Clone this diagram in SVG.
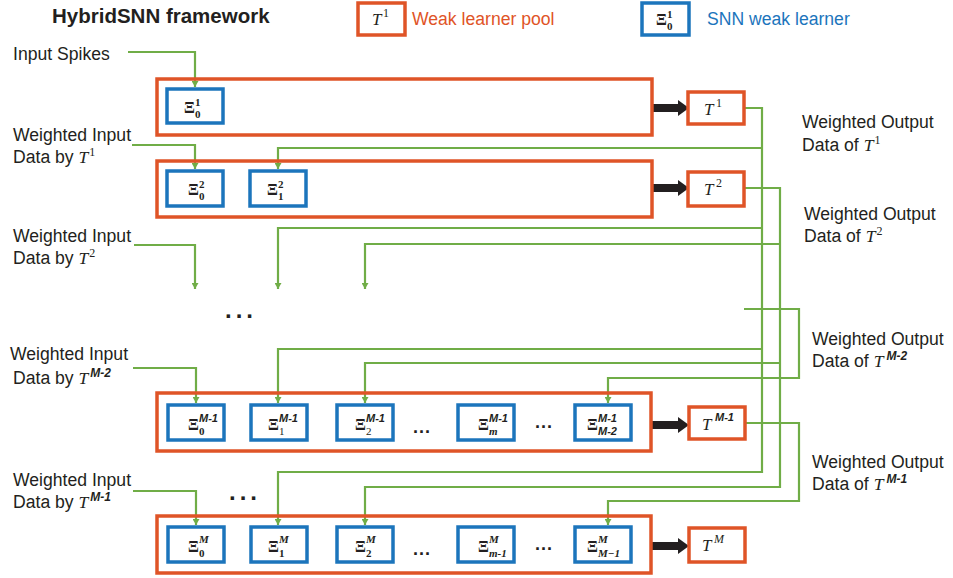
<svg xmlns="http://www.w3.org/2000/svg" width="953" height="578" viewBox="0 0 953 578">
<style>
.blk{fill:none;stroke:#DF5427;stroke-width:3.5}
.tb{fill:#fff;stroke:#DF5427;stroke-width:3.5}
.sb{fill:#fff;stroke:#1C75BC;stroke-width:3.5}
.lbl{font-family:"Liberation Sans",Arial,sans-serif;font-size:17.6px;fill:#231F20}
.ttl{font-family:"Liberation Sans",Arial,sans-serif;font-size:20.5px;font-weight:bold;fill:#231F20}
.mi{font-family:"Liberation Serif","Times New Roman",serif;font-style:italic;font-weight:normal}
.sr{font-family:"Liberation Serif","Times New Roman",serif;font-style:normal;font-weight:normal}
.xi{font-family:"Liberation Serif","Times New Roman",serif;font-weight:bold;font-size:16px;fill:#231F20}
.sc{font-size:11px}
.ss{font-family:"Liberation Sans",Arial,sans-serif;font-style:italic;font-weight:bold}
.bi{font-style:italic;font-weight:bold}
.tt{font-family:"Liberation Serif","Times New Roman",serif;font-style:italic;font-size:17px;fill:#231F20}
.dots{font-family:"Liberation Sans",Arial,sans-serif;font-weight:bold;fill:#231F20}
.g{fill:none;stroke:#70AD47;stroke-width:2.2}
.ga{marker-end:url(#ah)}
.bar{fill:#231F20}
</style>
<defs>
<marker id="ah" markerUnits="userSpaceOnUse" markerWidth="7" markerHeight="7" refX="6" refY="3.5" orient="auto">
<path d="M0,0 L6,3.5 L0,7 z" fill="#70AD47"/>
</marker>
</defs>

<g id="title"><text class="ttl" x="52" y="23">HybridSNN framework</text></g>

<g id="legend-pool">
<rect class="tb" x="358" y="3" width="47" height="32"/>
<text class="tt" x="372" y="25">T<tspan class="sr" font-size="12" x="383" y="17">1</tspan></text>
<text class="lbl" x="412" y="25" style="fill:#DF5427">Weak learner pool</text>
</g>
<g id="legend-snn">
<rect class="sb" x="642" y="3" width="47" height="32"/>
<text class="xi" x="656" y="25">Ξ<tspan class="sc" x="667" y="30">0</tspan><tspan class="sc" x="667" y="18">1</tspan></text>
<text class="lbl" x="707" y="25" style="fill:#1C75BC">SNN weak learner</text>
</g>

<g id="connectors">
<path class="g ga" d="M128,52 H195 V87"/>
<path class="g ga" d="M132,145 H195 V169"/>
<path class="g ga" d="M134,245 H195 V289"/>
<path class="g ga" d="M133,368 H196 V403"/>
<path class="g ga" d="M133,491 H196 V525"/>
<path class="g ga" d="M745,108 H762 V472 H278 V525"/>
<path class="g ga" d="M762,148 H278 V169"/>
<path class="g ga" d="M762,228 H278 V289"/>
<path class="g ga" d="M762,349 H278 V403"/>
<path class="g ga" d="M745,188 H780 V487 H365 V525"/>
<path class="g ga" d="M780,244 H365 V289"/>
<path class="g ga" d="M780,363 H365 V403"/>
<path class="g ga" d="M744,309 H799 V378 H608 V403"/>
<path class="g ga" d="M745,423 H799 V501 H608 V525"/>
<polygon class="bar" points="652,104 678,104 678,100 689,108 678,116 678,112 652,112"/>
<polygon class="bar" points="652,184 678,184 678,180 689,188 678,196 678,192 652,192"/>
<polygon class="bar" points="652,421 678,421 678,417 689,425 678,433 678,429 652,429"/>
<polygon class="bar" points="652,542 678,542 678,538 689,546 678,554 678,550 652,550"/>
</g>

<g id="label-input-spikes"><text class="lbl" x="13" y="60">Input Spikes</text></g>
<g id="label-in-1"><text class="lbl" x="13" y="141">Weighted Input</text><text class="lbl" x="13" y="163">Data by <tspan class="mi">T</tspan><tspan class="sr" font-size="12" dx="1" dy="-7">1</tspan></text></g>
<g id="label-in-2"><text class="lbl" x="13" y="242">Weighted Input</text><text class="lbl" x="13" y="264">Data by <tspan class="mi">T</tspan><tspan class="sr" font-size="12" dx="1" dy="-7">2</tspan></text></g>
<g id="label-in-m2"><text class="lbl" x="10" y="360">Weighted Input</text><text class="lbl" x="13" y="384">Data by <tspan class="mi">T</tspan><tspan class="ss" font-size="12" dx="2" dy="-7">M-2</tspan></text></g>
<g id="label-in-m1"><text class="lbl" x="13" y="486">Weighted Input</text><text class="lbl" x="13" y="508">Data by <tspan class="mi">T</tspan><tspan class="ss" font-size="12" dx="2" dy="-7">M-1</tspan></text></g>

<g id="label-out-1"><text class="lbl" x="802" y="128">Weighted Output</text><text class="lbl" x="802" y="151">Data of <tspan class="mi">T</tspan><tspan class="sr" font-size="12" dx="1" dy="-7">1</tspan></text></g>
<g id="label-out-2"><text class="lbl" x="804" y="220">Weighted Output</text><text class="lbl" x="804" y="242">Data of <tspan class="mi">T</tspan><tspan class="sr" font-size="12" dx="1" dy="-7">2</tspan></text></g>
<g id="label-out-m2"><text class="lbl" x="812" y="345">Weighted Output</text><text class="lbl" x="812" y="367">Data of <tspan class="mi">T</tspan><tspan class="ss" font-size="12" dx="3" dy="-7">M-2</tspan></text></g>
<g id="label-out-m1"><text class="lbl" x="812" y="468">Weighted Output</text><text class="lbl" x="812" y="490">Data of <tspan class="mi">T</tspan><tspan class="ss" font-size="12" dx="3" dy="-7">M-1</tspan></text></g>

<g id="level-1">
<rect class="blk" x="157" y="79" width="495" height="56"/>
<g id="xi-1-0"><rect class="sb" x="167" y="89" width="56" height="34"/>
<text class="xi" x="184" y="113">Ξ<tspan class="sc" x="195" y="118">0</tspan><tspan class="sc" x="195" y="106">1</tspan></text></g>
</g>
<g id="T-1"><rect class="tb" x="688" y="92" width="56" height="32"/><text class="tt" x="704" y="115">T<tspan class="sr" font-size="12" x="716" y="107">1</tspan></text></g>

<g id="level-2">
<rect class="blk" x="157" y="161" width="495" height="56"/>
<g id="xi-2-0"><rect class="sb" x="167" y="171" width="56" height="35"/>
<text class="xi" x="188" y="195">Ξ<tspan class="sc" x="199" y="200">0</tspan><tspan class="sc" x="199" y="188">2</tspan></text></g>
<g id="xi-2-1"><rect class="sb" x="250" y="171" width="56" height="35"/>
<text class="xi" x="267" y="195">Ξ<tspan class="sc" x="278" y="200">1</tspan><tspan class="sc" x="278" y="188">2</tspan></text></g>
</g>
<g id="T-2"><rect class="tb" x="688" y="172" width="56" height="34"/><text class="tt" x="704" y="195">T<tspan class="sr" font-size="12" x="716" y="187">2</tspan></text></g>

<g id="dots-mid"><text class="dots" x="225" y="318" font-size="24" letter-spacing="4">...</text></g>

<g id="level-m1">
<rect class="blk" x="157" y="393" width="494" height="58"/>
<g id="xi-m1-0"><rect class="sb" x="168" y="405" width="56" height="35"/>
<text class="xi" x="188" y="430">Ξ<tspan class="sc" x="199" y="435">0</tspan><tspan class="sc ss" x="199" y="422">M-1</tspan></text></g>
<g id="xi-m1-1"><rect class="sb" x="251" y="405" width="56" height="35"/>
<text class="xi" x="268" y="430">Ξ<tspan class="sc sr" x="279" y="435">1</tspan><tspan class="sc ss" x="279" y="422">M-1</tspan></text></g>
<g id="xi-m1-2"><rect class="sb" x="337" y="405" width="56" height="35"/>
<text class="xi" x="355" y="430">Ξ<tspan class="sc sr" x="366" y="435">2</tspan><tspan class="sc ss" x="366" y="422">M-1</tspan></text></g>
<text class="dots" x="413" y="433" font-size="18" letter-spacing="1">...</text>
<g id="xi-m1-m"><rect class="sb" x="458" y="405" width="56" height="35"/>
<text class="xi" x="478" y="430">Ξ<tspan class="sc bi" x="489" y="435">m</tspan><tspan class="sc ss" x="489" y="422">M-1</tspan></text></g>
<text class="dots" x="535" y="428" font-size="18" letter-spacing="1">...</text>
<g id="xi-m1-M2"><rect class="sb" x="575" y="405" width="56" height="35"/>
<text class="xi" x="587" y="430">Ξ<tspan class="sc ss" x="598" y="435">M-2</tspan><tspan class="sc ss" x="598" y="422">M-1</tspan></text></g>
</g>
<g id="T-m1"><rect class="tb" x="689" y="407" width="56" height="32"/><text class="tt" x="702" y="430">T<tspan class="sc ss" font-size="12" x="715" y="421">M-1</tspan></text></g>

<g id="dots-low"><text class="dots" x="229" y="500" font-size="24" letter-spacing="4">...</text></g>

<g id="level-m">
<rect class="blk" x="157" y="516" width="494" height="57"/>
<g id="xi-m-0"><rect class="sb" x="168" y="527" width="56" height="35"/>
<text class="xi" x="188" y="552">Ξ<tspan class="sc" x="199" y="557">0</tspan><tspan class="sc bi" x="199" y="543">M</tspan></text></g>
<g id="xi-m-1"><rect class="sb" x="251" y="527" width="56" height="35"/>
<text class="xi" x="268" y="552">Ξ<tspan class="sc" x="279" y="557">1</tspan><tspan class="sc bi" x="279" y="543">M</tspan></text></g>
<g id="xi-m-2"><rect class="sb" x="337" y="527" width="56" height="35"/>
<text class="xi" x="355" y="552">Ξ<tspan class="sc" x="366" y="557">2</tspan><tspan class="sc bi" x="366" y="543">M</tspan></text></g>
<text class="dots" x="413" y="555" font-size="18" letter-spacing="1">...</text>
<g id="xi-m-m1"><rect class="sb" x="458" y="527" width="56" height="35"/>
<text class="xi" x="478" y="552">Ξ<tspan class="sc bi" x="489" y="557">m-1</tspan><tspan class="sc bi" x="489" y="543">M</tspan></text></g>
<text class="dots" x="535" y="550" font-size="18" letter-spacing="1">...</text>
<g id="xi-m-M1"><rect class="sb" x="575" y="527" width="56" height="35"/>
<text class="xi" x="587" y="552">Ξ<tspan class="sc bi" x="598" y="557">M−1</tspan><tspan class="sc bi" x="598" y="543">M</tspan></text></g>
</g>
<g id="T-m"><rect class="tb" x="689" y="528" width="56" height="34"/><text class="tt" x="702" y="551">T<tspan class="mi" font-size="12" x="714" y="543">M</tspan></text></g>
</svg>
